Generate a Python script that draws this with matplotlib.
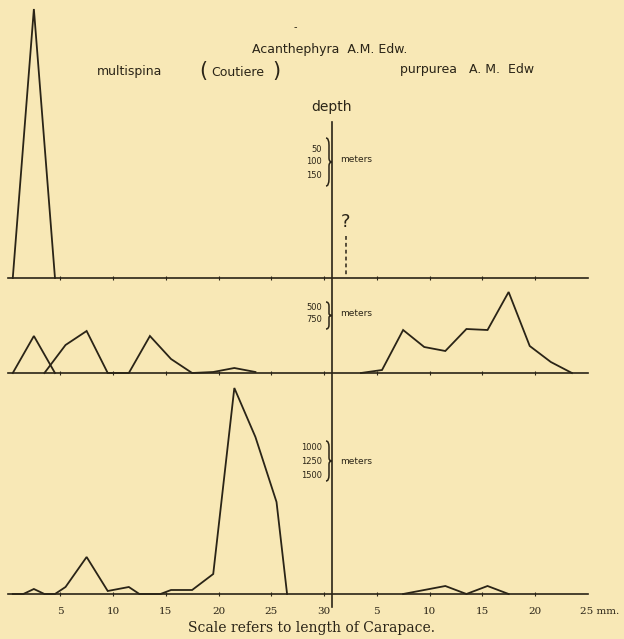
import matplotlib
matplotlib.use("Agg")
import matplotlib.pyplot as plt
from matplotlib.path import Path
from matplotlib.patches import PathPatch

W, H = 624, 639
PAPER = "#f8e8b6"
INK = "#2a2417"

# carapace length in mm; the purpurea scale starts again at the left scale's 30
OFFSET = 30

# 50-150 m
shallow_multi_x = [0.5, 2.5, 4.5]
shallow_multi_y = [0, 269, 0]

# 500-750 m
mid_multi_a_x = [0.5, 2.5, 4.5]
mid_multi_a_y = [0, 37, 0]
mid_multi_b_x = [3.5, 5.5, 7.5, 9.5, 11.5, 13.5, 15.5, 17.5, 19.5, 21.5, 23.5]
mid_multi_b_y = [0, 28, 42, 0, 0, 37, 14, 0, 1, 5, 1]
mid_purp_x = [3.5, 5.5, 7.5, 9.5, 11.5, 13.5, 15.5, 17.5, 19.5, 21.5, 23.5]
mid_purp_y = [0, 3, 43, 26, 22, 44, 43, 81, 27, 11, 0]

# 1000-1500 m
deep_multi_x = [0.5, 1.5, 2.5, 3.5, 4.5, 5.5, 7.5, 9.5, 11.5, 12.5,
                14.5, 15.5, 17.5, 19.5, 21.5, 23.5, 25.5, 26.5]
deep_multi_y = [0, 0, 5, 0, 0, 7, 37, 3, 7, 0, 0, 4, 4, 20, 206, 157, 92, 0]
deep_purp_x = [7.5, 11.5, 13.5, 15.5, 17.5]
deep_purp_y = [0, 8, 0, 8, 0]

left_ticks = [5, 10, 15, 20, 25, 30]
right_ticks = [5, 10, 15, 20]

# horizontal scale: 10.55 px per mm, zero at 7.5 px
X0, X1 = -7.5 / 10.55, (W - 7.5) / 10.55


def brace(ax, x, y0, y1, w):
    """Right-facing curly brace in pixel coords of the overlay."""
    h = y1 - y0
    m = (y0 + y1) / 2
    xm = x + w / 2
    verts = [(x, y0), (xm, y0), (xm, y0 + h * 0.15),
             (xm, m - h * 0.08), (xm, m), (x + w, m),
             (xm, m), (xm, m + h * 0.08),
             (xm, y1 - h * 0.15), (xm, y1), (x, y1)]
    codes = [Path.MOVETO, Path.CURVE3, Path.CURVE3,
             Path.LINETO, Path.CURVE3, Path.CURVE3,
             Path.CURVE3, Path.CURVE3,
             Path.LINETO, Path.CURVE3, Path.CURVE3]
    ax.add_patch(PathPatch(Path(verts, codes), fill=False, ec=INK, lw=1.1))


fig = plt.figure(figsize=(W / 100, H / 100), dpi=100, facecolor=PAPER)

# overlay in pixel coordinates for the lettering
ov = fig.add_axes([0, 0, 1, 1])
ov.set_xlim(0, W)
ov.set_ylim(H, 0)
ov.axis("off")
ov.patch.set_alpha(0)

sans = dict(color=INK, family="DejaVu Sans")
ov.text(295, 27, "-", fontsize=7, ha="center", va="center", **sans)
ov.text(330, 50, "Acanthephyra  A.M. Edw.", fontsize=9, ha="center", va="center", **sans)
ov.text(97, 72, "multispina", fontsize=9, ha="left", va="center", **sans)
ov.text(203, 71, "(", fontsize=15, ha="center", va="center", **sans)
ov.text(238, 72, "Coutiere", fontsize=9, ha="center", va="center", **sans)
ov.text(276, 71, ")", fontsize=15, ha="center", va="center", **sans)
ov.text(400, 70, "purpurea   A. M.  Edw", fontsize=9, ha="left", va="center", **sans)
ov.text(332, 107, "depth", fontsize=10, ha="center", va="center", **sans)

# vertical depth axis
ov.plot([332, 332], [122, 607], color=INK, lw=1.2)

# depth ranges
for labels, ys, (b0, b1), my in [
        (["50", "100", "150"], [149, 162, 176], (138, 186), 160),
        (["500", "750"], [307, 320], (302, 329), 314),
        (["1000", "1250", "1500"], [447, 462, 476], (441, 481), 462)]:
    for lab, y in zip(labels, ys):
        ov.text(322, y, lab, fontsize=6, ha="right", va="center", **sans)
    brace(ov, 326, b0, b1, 6)
    ov.text(340, my, "meters", fontsize=6.5, ha="left", va="center", **sans)

# uncertain record above the shallow purpurea baseline
ov.text(346, 222, "?", fontsize=13, ha="center", va="center", **sans)
ov.plot([346, 346], [236, 276], color=INK, lw=1.1, ls=(0, (2.5, 2)))

ov.text(580, 611, "25 mm.", fontsize=7.5, ha="left", va="center",
        color=INK, family="DejaVu Serif")
ov.text(311, 628, "Scale refers to length of Carapace.", fontsize=10,
        ha="center", va="center", color=INK, family="DejaVu Serif")


def row_axes(top, base, labels=False):
    ax = fig.add_axes([0, 1 - base / H, 1, (base - top) / H])
    ax.set_xlim(X0, X1)
    ax.set_ylim(0, base - top)
    ax.patch.set_alpha(0)
    for s in ["top", "right", "left"]:
        ax.spines[s].set_visible(False)
    ax.spines["bottom"].set_bounds(0, 55)
    ax.spines["bottom"].set_color(INK)
    ax.spines["bottom"].set_linewidth(1.2)
    ax.set_yticks([])
    ticks = left_ticks + [t + OFFSET for t in right_ticks]
    ax.set_xticks(ticks)
    ax.set_xticklabels([str(t) for t in left_ticks] + [str(t) for t in right_ticks],
                       family="DejaVu Serif", fontsize=7.5, color=INK)
    ax.tick_params(axis="x", direction="inout", length=3, width=0.8,
                   colors=INK, pad=8, labelbottom=labels)
    return ax


line = dict(color=INK, lw=1.3, clip_on=False, solid_joinstyle="miter")

ax1 = row_axes(0, 278)
ax1.plot(shallow_multi_x, shallow_multi_y, **line)

ax2 = row_axes(278, 373)
ax2.plot(mid_multi_a_x, mid_multi_a_y, **line)
ax2.plot(mid_multi_b_x, mid_multi_b_y, **line)
ax2.plot([x + OFFSET for x in mid_purp_x], mid_purp_y, **line)

ax3 = row_axes(380, 594, labels=True)
ax3.plot(deep_multi_x, deep_multi_y, **line)
ax3.plot([x + OFFSET for x in deep_purp_x], deep_purp_y, **line)

fig.savefig("out.png", dpi=100, facecolor=PAPER)
